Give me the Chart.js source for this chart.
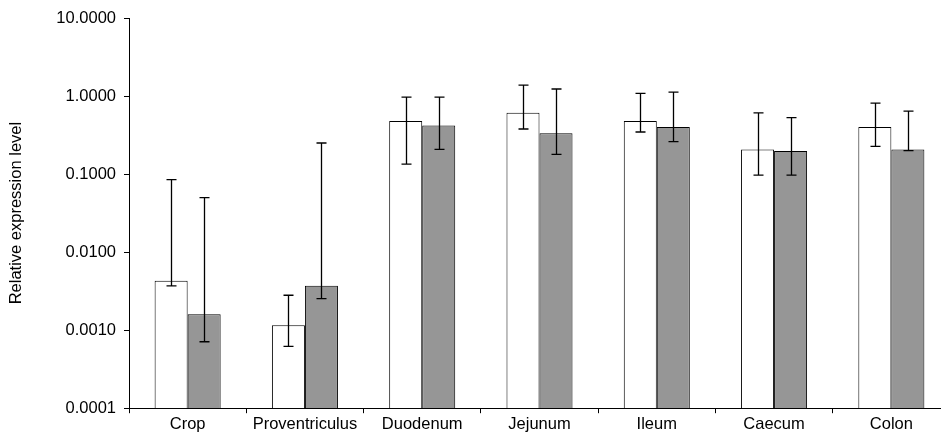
<!DOCTYPE html>
<html>
<head>
<meta charset="utf-8">
<title>Relative expression level</title>
<script src="https://cdn.jsdelivr.net/npm/chart.js"></script>
<style>
  html, body { margin: 0; padding: 0; background: #fff; overflow: hidden; }
  #wrap { width: 950px; height: 443px; }
</style>
</head>
<body>
<div id="wrap"><canvas id="canvas"></canvas></div>
<script>
var categories = ["Crop", "Proventriculus", "Duodenum", "Jejunum", "Ileum", "Caecum", "Colon"];
var whiteVals = [0.0043, 0.00116, 0.48, 0.61, 0.48, 0.207, 0.40];
var whiteLow  = [0.0037, 0.00062, 0.134, 0.378, 0.346, 0.097, 0.226];
var whiteHigh = [0.085, 0.0028, 0.97, 1.38, 1.08, 0.61, 0.81];
var grayVals  = [0.0016, 0.0037, 0.42, 0.333, 0.40, 0.197, 0.207];
var grayLow   = [0.00071, 0.00254, 0.207, 0.179, 0.26, 0.097, 0.20];
var grayHigh  = [0.05, 0.25, 0.97, 1.23, 1.12, 0.53, 0.64];
var yTicks = [0.0001, 0.001, 0.01, 0.1, 1, 10];

// error bars drawn through the y scale
var errorBars = {
  id: 'errorBars',
  afterDatasetsDraw: function(chart) {
    var ctx = chart.ctx;
    var y = chart.scales.y;
    var lows = [whiteLow, grayLow];
    var highs = [whiteHigh, grayHigh];
    ctx.save();
    ctx.strokeStyle = '#000';
    ctx.lineWidth = 1.3;
    for (var d = 0; d < 2; d++) {
      var meta = chart.getDatasetMeta(d);
      meta.data.forEach(function(bar, i) {
        var x = Math.round(bar.x) + 0.5;
        var yl = y.getPixelForValue(lows[d][i]);
        var yh = y.getPixelForValue(highs[d][i]);
        ctx.beginPath();
        ctx.moveTo(x, yl); ctx.lineTo(x, yh);
        ctx.moveTo(x - 5, yl); ctx.lineTo(x + 5, yl);
        ctx.moveTo(x - 5, yh); ctx.lineTo(x + 5, yh);
        ctx.stroke();
      });
    }
    ctx.restore();
  }
};

Chart.defaults.font.family = '"Liberation Sans", Arial, sans-serif';
Chart.defaults.font.size = 16.5;
Chart.defaults.color = '#000';

var ctx = document.getElementById('canvas').getContext('2d');
var chart = new Chart(ctx, {
  type: 'bar',
  data: {
    labels: categories,
    datasets: [
      { data: whiteVals, backgroundColor: '#ffffff', borderColor: '#000', borderWidth: 1 },
      { data: grayVals, backgroundColor: '#969696', borderColor: '#000', borderWidth: 1 }
    ]
  },
  options: {
    responsive: true,
    maintainAspectRatio: false,
    animation: false,
    layout: { padding: { top: 18, right: 0, bottom: 8, left: 0 } },
    plugins: { legend: { display: false }, tooltip: { enabled: false } },
    datasets: { bar: { barPercentage: 1, categoryPercentage: 0.563 } },
    scales: {
      x: {
        offset: true,
        grid: { offset: true, drawOnChartArea: false, drawTicks: true, tickLength: 5, color: '#000' },
        border: { color: '#000', width: 1 },
        ticks: { padding: 1, maxRotation: 0, autoSkip: false }
      },
      y: {
        type: 'logarithmic',
        min: 0.0001,
        max: 10,
        afterFit: function(s) { s.width = 129; },
        afterBuildTicks: function(s) { s.ticks = yTicks.map(function(v) { return { value: v }; }); },
        grid: { drawOnChartArea: false, drawTicks: true, tickLength: 5, color: '#000' },
        border: { color: '#000', width: 1 },
        ticks: { padding: 8, callback: function(v) { return Number(v).toFixed(4); } },
        title: { display: true, text: 'Relative expression level', padding: { top: 7, bottom: 0 } }
      }
    }
  },
  plugins: [errorBars]
});
</script>
</body>
</html>
